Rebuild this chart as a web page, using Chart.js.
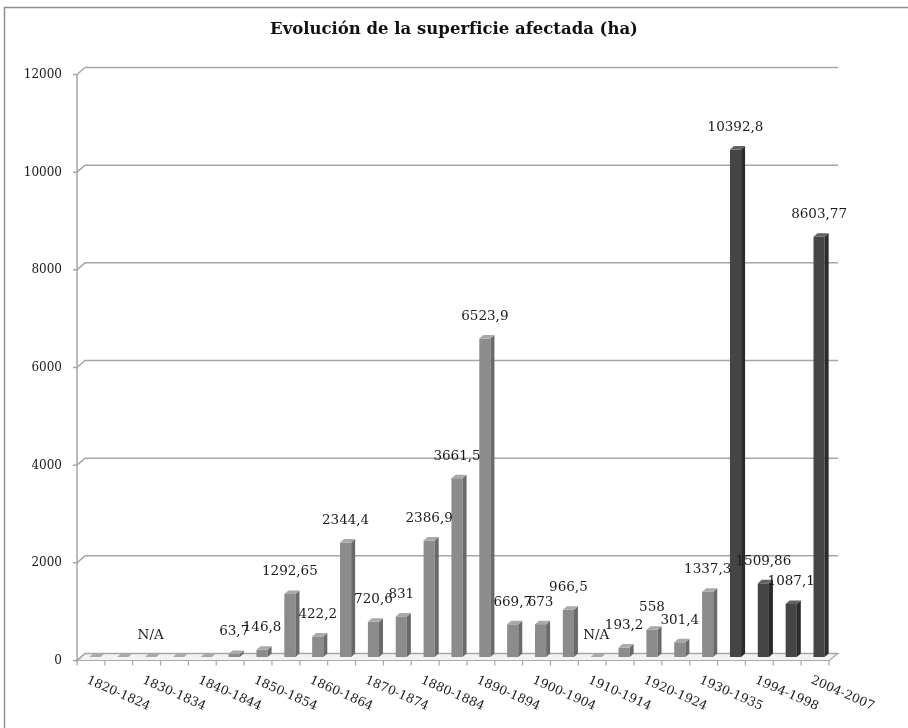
<!DOCTYPE html>
<html lang="es">
<head>
<meta charset="utf-8">
<title>Evolución de la superficie afectada (ha)</title>
<script src="https://cdn.jsdelivr.net/npm/chart.js@4.4.1/dist/chart.umd.min.js"></script>
<style>
  html, body { margin: 0; padding: 0; background: #fff; }
  #wrap { width: 908px; height: 728px; }
</style>
</head>
<body>
<div id="wrap"><canvas id="grafico" width="908" height="728"></canvas></div>
<script>
// Periodos (en el eje solo se rotulan uno de cada dos, como en el original)
const periodos = [
  "1820-1824", "1825-1829", "1830-1834", "1835-1839", "1840-1844",
  "1845-1849", "1850-1854", "1855-1859", "1860-1864", "1865-1869",
  "1870-1874", "1875-1879", "1880-1884", "1885-1889", "1890-1894",
  "1895-1899", "1900-1904", "1905-1909", "1910-1914", "1915-1919",
  "1920-1924", "1925-1929", "1930-1935", "1989-1993", "1994-1998",
  "1999-2003", "2004-2007"
];

// Superficie afectada (ha) - serie histórica (0 = sin datos)
const historico = [
  0, 0, 0, 0, 0,
  63.7, 146.8, 1292.65, 422.2, 2344.4,
  720.6, 831, 2386.9, 3661.5, 6523.9,
  669.7, 673, 966.5, 0, 193.2,
  558, 301.4, 1337.3, null, null,
  null, null
];

// Serie reciente
const reciente = [
  null, null, null, null, null,
  null, null, null, null, null,
  null, null, null, null, null,
  null, null, null, null, null,
  null, null, null, 10392.8, 1509.86,
  1087.1, 8603.77
];

// Texto de las etiquetas de datos
const rotulos = [
  "", "", "N/A", "", "",
  "63,7", "146,8", "1292,65", "422,2", "2344,4",
  "720,6", "831", "2386,9", "3661,5", "6523,9",
  "669,7", "673", "966,5", "N/A", "193,2",
  "558", "301,4", "1337,3", "10392,8", "1509,86",
  "1087,1", "8603,77"
];

const ejeY = { min: 0, max: 12000, paso: 2000 };

const FUENTE = "'DejaVu Serif', 'Liberation Serif', serif";
const DX = 4, DY = 3.5;   // desplazamiento de la "profundidad" 3D

const colores = {
  claro: { frente: "#8c8c8c", lado: "#6a6a6a", tapa: "#a9a9a9" },
  oscuro: { frente: "#454545", lado: "#2b2b2b", tapa: "#626262" }
};

// Marco: borde, paredes con líneas de división, suelo y marcas
const marco3d = {
  id: "marco3d",
  beforeDatasetsDraw(chart) {
    const { ctx, chartArea: a, scales } = chart;
    const y = scales.y, x = scales.x;
    ctx.save();

    // borde del gráfico
    ctx.strokeStyle = "#8f8f8f";
    ctx.lineWidth = 1.5;
    ctx.beginPath();
    ctx.moveTo(4.5, 728);
    ctx.lineTo(4.5, 7.5);
    ctx.lineTo(908, 7.5);
    ctx.stroke();

    const y0 = y.getPixelForValue(0);
    const yTop = y.getPixelForValue(ejeY.max);

    // suelo
    ctx.fillStyle = "#f3f3f3";
    ctx.strokeStyle = "#ababab";
    ctx.lineWidth = 1.2;
    ctx.beginPath();
    ctx.moveTo(a.left - DX, y0 + DY);
    ctx.lineTo(a.right - DX, y0 + DY);
    ctx.lineTo(a.right + DX + 1, y0 - DY);
    ctx.lineTo(a.left + DX, y0 - DY);
    ctx.closePath();
    ctx.fill();
    ctx.stroke();

    // líneas de división
    ctx.strokeStyle = "#a6a6a6";
    ctx.lineWidth = 1.5;
    y.ticks.forEach(t => {
      const py = y.getPixelForValue(t.value);
      ctx.beginPath();
      ctx.moveTo(a.left - DX - 4, py + DY);
      ctx.lineTo(a.left - DX, py + DY);
      ctx.lineTo(a.left + DX, py - DY);
      ctx.lineTo(a.right + DX + 1, py - DY);
      ctx.stroke();
    });

    // eje vertical frontal
    ctx.beginPath();
    ctx.moveTo(a.left - DX, yTop + DY);
    ctx.lineTo(a.left - DX, y0 + DY + 2);
    ctx.stroke();

    // marcas del eje horizontal
    ctx.lineWidth = 1.2;
    for (let i = 0; i <= periodos.length; i++) {
      const px = x.getPixelForValue(i - 0.5) - DX;
      ctx.beginPath();
      ctx.moveTo(px, y0 + DY);
      ctx.lineTo(px, y0 + DY + 5);
      ctx.stroke();
    }
    ctx.restore();
  }
};

// Caras laterales y superiores de las barras, etiquetas y rótulos del eje X
const barras3d = {
  id: "barras3d",
  afterDatasetsDraw(chart) {
    const { ctx, scales } = chart;
    const x = scales.x;
    ctx.save();

    chart.data.datasets.forEach((ds, d) => {
      const meta = chart.getDatasetMeta(d);
      const pal = d === 0 ? colores.claro : colores.oscuro;
      meta.data.forEach((el, i) => {
        if (ds.data[i] === null) return;
        const xl = el.x - el.width / 2, xr = el.x + el.width / 2;
        const top = el.y, base = el.base;
        // lado derecho
        ctx.fillStyle = pal.lado;
        ctx.beginPath();
        ctx.moveTo(xr, top);
        ctx.lineTo(xr + DX, top - DY);
        ctx.lineTo(xr + DX, base - DY);
        ctx.lineTo(xr, base);
        ctx.closePath();
        ctx.fill();
        // tapa
        ctx.fillStyle = pal.tapa;
        ctx.beginPath();
        ctx.moveTo(xl, top);
        ctx.lineTo(xl + DX, top - DY);
        ctx.lineTo(xr + DX, top - DY);
        ctx.lineTo(xr, top);
        ctx.closePath();
        ctx.fill();

        // etiqueta de datos
        if (rotulos[i]) {
          ctx.fillStyle = "#1a1a1a";
          ctx.font = "13.5px " + FUENTE;
          ctx.textAlign = "center";
          ctx.textBaseline = "middle";
          ctx.fillText(rotulos[i], el.x, top - 22);
        }
      });
    });

    // rótulos del eje X (uno de cada dos), inclinados
    const y0 = scales.y.getPixelForValue(0);
    ctx.fillStyle = "#1a1a1a";
    ctx.font = "12.5px " + FUENTE;
    ctx.textAlign = "left";
    ctx.textBaseline = "top";
    periodos.forEach((p, i) => {
      if (i % 2) return;
      const px = x.getPixelForValue(i);
      ctx.save();
      ctx.translate(px - 5, y0 + 17);
      ctx.rotate(24 * Math.PI / 180);
      ctx.fillText(p, 0, 0);
      ctx.restore();
    });
    ctx.restore();
  }
};

new Chart(document.getElementById("grafico"), {
  type: "bar",
  data: {
    labels: periodos,
    datasets: [
      {
        label: "Histórico",
        data: historico,
        backgroundColor: colores.claro.frente,
        grouped: false,
        categoryPercentage: 0.8,
        barPercentage: 0.5
      },
      {
        label: "Reciente",
        data: reciente,
        backgroundColor: colores.oscuro.frente,
        grouped: false,
        categoryPercentage: 0.8,
        barPercentage: 0.5
      }
    ]
  },
  options: {
    responsive: false,
    animation: false,
    devicePixelRatio: 1,
    layout: { padding: { left: 0, right: 0, top: 0, bottom: 71 } },
    scales: {
      x: { display: false, offset: true },
      y: {
        min: ejeY.min,
        max: ejeY.max,
        ticks: {
          stepSize: ejeY.paso,
          padding: 19,
          labelOffset: 4,
          color: "#1a1a1a",
          font: { family: FUENTE, size: 12 },
          callback: v => String(v)
        },
        grid: { display: false, drawTicks: false },
        border: { display: false },
        afterFit(s) { s.width = 81; }
      },
      // eje vacío a la derecha: solo reserva el margen derecho
      margen: {
        type: "linear",
        position: "right",
        display: true,
        ticks: { display: false },
        grid: { display: false, drawTicks: false },
        border: { display: false },
        afterFit(s) { s.width = 75; }
      }
    },
    plugins: {
      legend: { display: false },
      tooltip: { enabled: false },
      title: {
        display: true,
        text: "Evolución de la superficie afectada (ha)",
        color: "#111",
        font: { family: FUENTE, size: 16.5, weight: "bold" },
        padding: { top: 20, bottom: 31.2 }
      }
    }
  },
  plugins: [marco3d, barras3d]
});
</script>
</body>
</html>
